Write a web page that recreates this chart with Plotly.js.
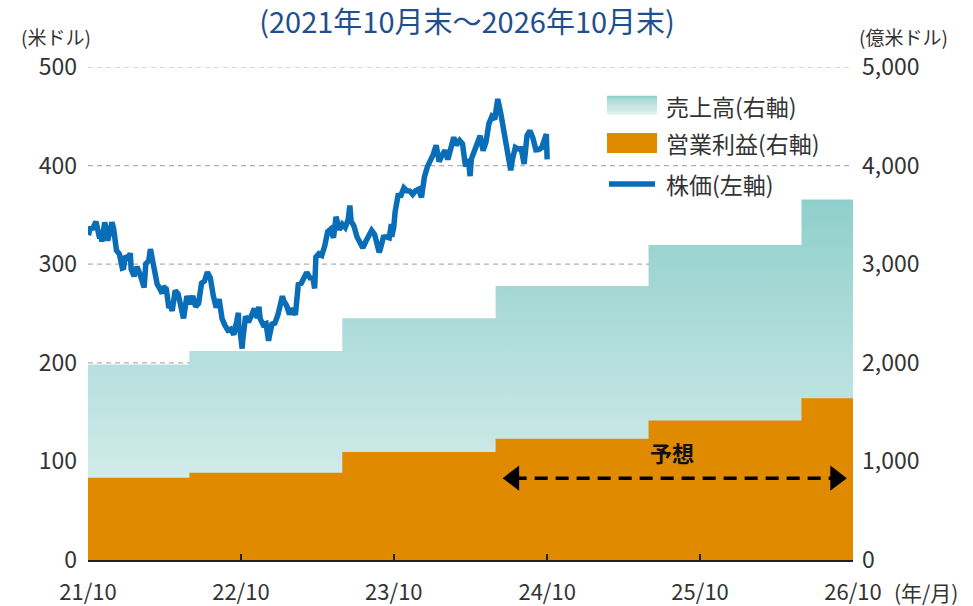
<!DOCTYPE html>
<html>
<head>
<meta charset="utf-8">
<script src="https://cdn.plot.ly/plotly-3.0.1.min.js"></script>
<style>html,body{margin:0;padding:0;background:#fff;}#chart{width:973px;height:606px;}</style>
</head>
<body>
<div id="chart"></div>
<script>
// ---- data ----
const stepDates = ['2021-10-31','2022-06-30','2023-06-30','2024-06-30','2025-06-30','2026-06-30','2026-10-31'];
const revenue = [1983, 2119, 2451, 2780, 3195, 3655, 3655];        // 億米ドル (right axis)
const opProfit = [833, 885, 1095, 1230, 1414, 1640, 1640];         // 億米ドル (right axis)

const priceDates = ['2021-11-01','2021-11-05','2021-11-12','2021-11-19','2021-11-26','2021-11-30','2021-12-03','2021-12-10','2021-12-17','2021-12-23','2021-12-27','2021-12-31',
'2022-01-07','2022-01-14','2022-01-21','2022-01-24','2022-01-28','2022-02-04','2022-02-09','2022-02-11','2022-02-18','2022-02-25','2022-03-04','2022-03-11','2022-03-14','2022-03-18','2022-03-25','2022-03-29','2022-04-01','2022-04-08','2022-04-14','2022-04-22','2022-04-26','2022-04-29','2022-05-06','2022-05-12','2022-05-13','2022-05-20','2022-05-27','2022-06-03','2022-06-10','2022-06-16','2022-06-17','2022-06-24','2022-07-01','2022-07-08','2022-07-15','2022-07-22','2022-07-29','2022-08-05','2022-08-12','2022-08-19','2022-08-26','2022-09-02','2022-09-09','2022-09-16','2022-09-23','2022-09-30','2022-10-07','2022-10-14','2022-10-21','2022-10-25','2022-10-26','2022-10-28','2022-11-03','2022-11-04','2022-11-11','2022-11-18','2022-11-25','2022-11-30','2022-12-02','2022-12-09','2022-12-13','2022-12-16','2022-12-23','2022-12-30',
'2023-01-05','2023-01-06','2023-01-13','2023-01-20','2023-01-27','2023-02-03','2023-02-07','2023-02-10','2023-02-17','2023-02-24','2023-03-03','2023-03-10','2023-03-17','2023-03-24','2023-03-31','2023-04-06','2023-04-14','2023-04-21','2023-04-25','2023-04-28','2023-05-05','2023-05-12','2023-05-19','2023-05-26','2023-06-02','2023-06-09','2023-06-15','2023-06-23','2023-06-30','2023-07-07','2023-07-14','2023-07-18','2023-07-21','2023-07-28','2023-08-04','2023-08-11','2023-08-18','2023-08-25','2023-09-01','2023-09-08','2023-09-15','2023-09-22','2023-09-26','2023-09-29','2023-10-06','2023-10-13','2023-10-20','2023-10-25','2023-10-26','2023-10-31','2023-11-03','2023-11-10','2023-11-17','2023-11-24','2023-12-01','2023-12-08','2023-12-15','2023-12-22','2023-12-29',
'2024-01-05','2024-01-12','2024-01-19','2024-01-26','2024-02-02','2024-02-09','2024-02-16','2024-02-23','2024-03-01','2024-03-08','2024-03-15','2024-03-22','2024-03-28','2024-04-05','2024-04-12','2024-04-19','2024-04-26','2024-04-30','2024-05-03','2024-05-10','2024-05-17','2024-05-24','2024-05-31','2024-06-07','2024-06-14','2024-06-21','2024-06-28','2024-07-05','2024-07-12','2024-07-19','2024-07-26','2024-08-02','2024-08-05','2024-08-09','2024-08-16','2024-08-23','2024-08-30','2024-09-06','2024-09-13','2024-09-20','2024-09-27','2024-10-04','2024-10-11','2024-10-18','2024-10-25','2024-10-29','2024-10-31'];
const price = [329.4,336.1,336.7,343.1,329.7,330.6,323.0,342.5,323.8,334.7,342.5,336.3,
314.0,310.2,296.0,296.4,308.3,305.9,311.2,295.0,287.9,297.3,289.9,280.1,276.4,300.4,303.7,315.4,309.4,297.0,279.8,274.0,270.2,277.5,274.7,255.4,261.1,252.6,273.2,270.0,253.0,245.0,247.7,267.7,259.6,267.7,256.7,260.4,280.7,282.9,291.9,286.2,268.1,256.1,264.5,244.7,237.9,232.9,234.2,228.6,242.1,250.7,231.3,235.9,214.3,221.4,247.1,241.2,247.5,255.1,255.0,245.4,256.9,244.7,238.7,239.8,
222.3,224.9,239.2,240.2,248.2,258.4,267.6,263.1,258.1,249.2,255.3,248.6,279.4,280.6,288.3,291.6,286.1,285.8,275.4,307.3,310.7,309.0,318.3,332.9,335.4,326.8,348.1,335.0,340.5,337.2,345.2,359.5,343.8,338.4,327.8,321.0,316.5,323.0,328.7,334.3,330.2,317.0,312.1,315.8,327.3,327.7,326.7,340.7,327.9,338.1,352.8,369.7,369.9,377.4,374.5,374.2,370.7,374.6,376.0,
367.8,388.5,398.7,403.9,411.2,420.6,404.1,410.3,415.5,406.2,416.4,428.7,420.7,425.5,421.9,399.1,406.3,389.3,406.7,414.7,420.2,430.2,415.1,423.9,442.6,449.8,447.0,467.6,453.6,437.1,425.3,408.5,395.2,406.0,418.5,416.8,417.1,401.7,430.6,435.3,428.0,416.1,416.3,418.2,428.2,432.0,406.4];

const xTickVals = ['2021-10-31','2022-10-31','2023-10-31','2024-10-31','2025-10-31','2026-10-31'];
const xTickText = ['21/10','22/10','23/10','24/10','25/10','26/10'];
const leftTicks = [0,100,200,300,400,500];
const rightTicks = [0,1000,2000,3000,4000,5000];
const forecastSpan = ['2024-08-12','2026-09-20'];
const forecastLevel = 830;
const legendNames = ['売上高(右軸)', '営業利益(右軸)', '株価(左軸)'];

// ---- styles ----
const font = '"Noto Sans CJK JP", "Noto Sans", sans-serif';
const txt = '#333333';
const revLow = [228, 243, 243], revHigh = [143, 207, 203];
const orange = '#e08a00', blue = '#0a6db7';

// grid lines (drawn above the areas, below the price line)
const gx = [], gy = [];
leftTicks.filter(v => v > 0).forEach(v => { gx.push(xTickVals[0], xTickVals[xTickVals.length-1], null); gy.push(v, v, null); });

const traces = [
  {x: stepDates, y: revenue, yaxis: 'y2', type: 'scatter', mode: 'lines', line: {shape: 'hv', width: 0, color: '#9fd5d2'},
   fill: 'tozeroy', fillgradient: {type: 'vertical', start: 0, stop: 3655, colorscale: [[0, 'rgb(' + revLow + ')'], [1, 'rgb(' + revHigh + ')']]},
   name: legendNames[0], showlegend: false, hoverinfo: 'skip'},
  {x: stepDates, y: opProfit, yaxis: 'y2', type: 'scatter', mode: 'lines', line: {shape: 'hv', width: 0, color: orange},
   fill: 'tozeroy', fillcolor: orange, name: legendNames[1], showlegend: false, hoverinfo: 'skip'},
  {x: gx, y: gy, yaxis: 'y', type: 'scatter', mode: 'lines', line: {color: 'rgba(100,100,100,0.5)', width: 1.2, dash: '5px,4px'},
   showlegend: false, hoverinfo: 'skip', connectgaps: false},
  {x: priceDates, y: price, yaxis: 'y', type: 'scatter', mode: 'lines', line: {color: blue, width: 5.5},
   name: legendNames[2], showlegend: false},
  {x: forecastSpan, y: [forecastLevel, forecastLevel], yaxis: 'y2', type: 'scatter', mode: 'lines+markers',
   line: {color: '#000', width: 3.5, dash: '13px,8px'},
   marker: {symbol: ['triangle-left', 'triangle-right'], size: 22, color: '#000'}, showlegend: false, hoverinfo: 'skip'}
];

// ---- custom legend (paper coords) ----
const px = v => (v - 88) / 765, py = v => (560 - v) / 493;
const shapes = [];
// gradient swatch for revenue
const sw = {x0: px(607), x1: px(657)};
const nStrip = 20, top1 = 96, bot1 = 115;
for (let i = 0; i < nStrip; i++) {
  const t = i / (nStrip - 1);
  const c = revHigh.map((h, k) => Math.round(h + (revLow[k] - h) * t));
  const y0 = top1 + (bot1 - top1) * i / nStrip, y1 = top1 + (bot1 - top1) * (i + 1) / nStrip;
  shapes.push({type: 'rect', xref: 'paper', yref: 'paper', x0: sw.x0, x1: sw.x1, y0: py(y1), y1: py(y0) + 0.0005,
               fillcolor: 'rgb(' + c + ')', line: {width: 0}, layer: 'above'});
}
shapes.push({type: 'rect', xref: 'paper', yref: 'paper', x0: sw.x0, x1: sw.x1, y0: py(153), y1: py(133),
             fillcolor: orange, line: {width: 0}, layer: 'above'});
shapes.push({type: 'line', xref: 'paper', yref: 'paper', x0: px(609), x1: px(655), y0: py(184), y1: py(184),
             line: {color: blue, width: 5.5}, layer: 'above'});
const legendY = [105.5, 143, 184];
const legendAnn = legendNames.map((n, i) => ({text: n, xref: 'paper', yref: 'paper', x: px(664), y: py(legendY[i]),
  xanchor: 'left', yanchor: 'middle', showarrow: false, font: {size: 23, color: txt}}));

const layout = {
  width: 973, height: 606,
  margin: {l: 88, r: 120, t: 67, b: 46},
  paper_bgcolor: '#fff', plot_bgcolor: 'rgba(0,0,0,0)',
  font: {family: font, color: txt, size: 20},
  showlegend: false,
  title: {text: '(2021年10月末～2026年10月末)', font: {family: font, size: 29, color: '#1f4f8c'},
          x: 0.48, xref: 'container', xanchor: 'center', y: 0.963, yanchor: 'middle'},
  xaxis: {type: 'date', range: [xTickVals[0], xTickVals[xTickVals.length-1]], tickmode: 'array', tickvals: xTickVals, ticktext: xTickText,
          ticks: 'inside', ticklen: 6, tickwidth: 1.5, tickcolor: '#222', showline: true, linecolor: '#222', linewidth: 1.5,
          showgrid: false, zeroline: false, ticklabelstandoff: 12, tickfont: {size: 22, color: txt}, fixedrange: true},
  yaxis: {range: [0, 500], tickmode: 'array', tickvals: leftTicks, showgrid: false, zeroline: false, showline: false,
          ticks: '', ticklabelstandoff: 10, tickfont: {size: 23, color: txt}, fixedrange: true},
  yaxis2: {range: [0, 5000], overlaying: 'y', side: 'right', tickmode: 'array', tickvals: rightTicks, tickformat: ',d',
           showgrid: false, zeroline: false, showline: false, ticks: '', ticklabelstandoff: 8, tickfont: {size: 23, color: txt}, fixedrange: true},
  shapes: shapes,
  annotations: [
    {text: '(米ドル)', xref: 'paper', yref: 'paper', x: px(56), y: py(36), xanchor: 'center', yanchor: 'middle', showarrow: false, font: {size: 19, color: txt}},
    {text: '(億米ドル)', xref: 'paper', yref: 'paper', x: px(903), y: py(36), xanchor: 'center', yanchor: 'middle', showarrow: false, font: {size: 19, color: txt}},
    {text: '(年/月)', xref: 'paper', yref: 'paper', x: px(926), y: py(592), xanchor: 'center', yanchor: 'middle', showarrow: false, font: {size: 21, color: txt}},
    {text: '<b>予想</b>', xref: 'x', yref: 'y2', x: '2025-08-25', y: 1095, xanchor: 'center', yanchor: 'middle', showarrow: false, font: {size: 22, color: '#111'}}
  ].concat(legendAnn)
};

Plotly.newPlot('chart', traces, layout, {displayModeBar: false, staticPlot: true});
</script>
</body>
</html>
